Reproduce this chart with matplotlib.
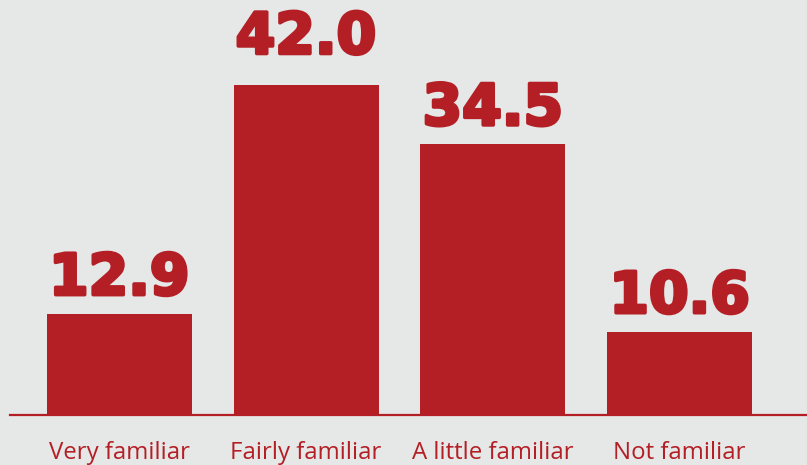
import matplotlib
matplotlib.use("Agg")
import matplotlib.pyplot as plt
import matplotlib.patheffects as pe

categories = ["Very familiar", "Fairly familiar", "A little familiar", "Not familiar"]
values = [12.9, 42.0, 34.5, 10.6]
value_labels = ["12.9", "42.0", "34.5", "10.6"]

RED = "#b31f25"
BG = "#e6e7e7"

fig = plt.figure(figsize=(8.07, 4.65), dpi=100, facecolor=BG)
W, H = 807, 465
ax = fig.add_axes([10 / W, 50 / H, 797 / W, 415 / H], facecolor=BG)

x = list(range(len(categories)))
ax.bar(x, values, width=145 / 187, color=RED, zorder=2)

ax.set_xlim(-109.5 / 187, 3 + 127.5 / 187)
ax.set_ylim(0, 415 / (330 / 42.0))

for xi, v, lab in zip(x, values, value_labels):
    off = 14 if v > 40 else 5
    ax.annotate(lab, (xi, v), xytext=(0, off), textcoords="offset points",
                ha="center", va="bottom", fontsize=41, fontweight="black",
                family="DejaVu Sans", color=RED,
                path_effects=[pe.withStroke(linewidth=2.5, foreground=RED)])

for s in ["top", "right", "left"]:
    ax.spines[s].set_visible(False)
ax.spines["bottom"].set_color(RED)
ax.spines["bottom"].set_linewidth(1.6)
ax.set_yticks([])
ax.set_xticks(x)
ax.set_xticklabels(categories, fontsize=17.3, color=RED, family="Open Sans")
ax.tick_params(axis="x", length=0, pad=19)

fig.savefig("out.png", dpi=100, facecolor=BG)
